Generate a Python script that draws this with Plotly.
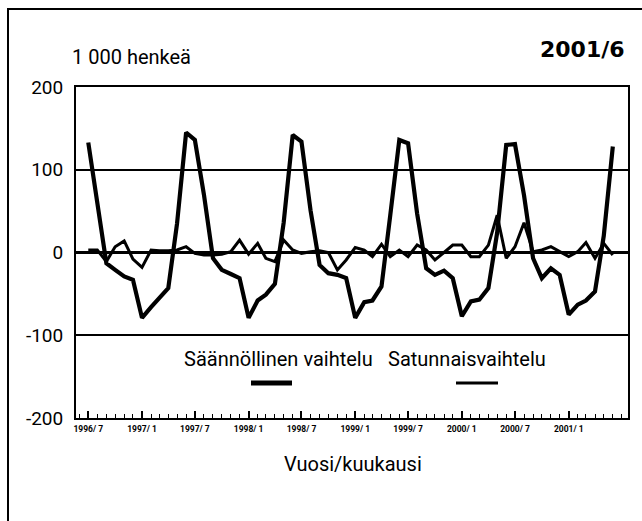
import plotly.graph_objects as go

months = [f"{1996 + (6 + i) // 12}-{(6 + i) % 12 + 1:02d}-01" for i in range(60)]

seasonal = [133, 60, -13, -21, -29, -33, -79, -66, -55, -43, 35, 145,
            136, 70, -7, -21, -26, -31, -79, -58, -51, -38, 36, 142,
            134, 51, -15, -25, -27, -31, -79, -60, -58, -41, 45, 136,
            132, 47, -19, -27, -22, -31, -77, -59, -57, -43, 24, 130,
            131, 69, -7, -31, -19, -27, -75, -63, -58, -47, 20, 128]

irregular = [3, 3, -11, 7, 14, -8, -18, 3, 2, 2, 3, 7,
             -1, -3, -3, -2, 1, 15, -2, 11, -7, -11, 15, 3,
             -1, 1, 2, 0, -21, -9, 6, 3, -5, 10, -5, 3,
             -5, 9, 3, -9, 0, 9, 9, -5, -5, 9, 45, -7,
             7, 36, 1, 3, 7, 1, -5, 1, 12, -7, 11, -3]

tick_vals = ["1996-07-01", "1997-01-01", "1997-07-01", "1998-01-01", "1998-07-01",
             "1999-01-01", "1999-07-01", "2000-01-01", "2000-07-01", "2001-01-01"]
tick_text = ["1996/ 7", "1997/ 1", "1997/ 7", "1998/ 1", "1998/ 7",
             "1999/ 1", "1999/ 7", "2000/ 1", "2000/ 7", "2001/ 1"]

y_ticks = [-200, -100, 0, 100, 200]

FONT = "Roboto, Liberation Sans, sans-serif"

fig = go.Figure()
fig.add_trace(go.Scatter(x=months, y=irregular, mode="lines", name="Satunnaisvaihtelu",
                         line=dict(color="black", width=3)))
fig.add_trace(go.Scatter(x=months, y=seasonal, mode="lines", name="Säännöllinen vaihtelu",
                         line=dict(color="black", width=4.2)))

L, R, T, B = 76, 628, 87, 418
W, H = 642, 521


def px(x):
    return (x - L) / (R - L)


def py(y):
    return (B - y) / (B - T)


shapes = [
    dict(type="rect", xref="paper", yref="paper", x0=px(8), x1=px(660), y0=py(540), y1=py(9),
         line=dict(color="black", width=2), layer="below"),
    dict(type="line", xref="paper", yref="paper", x0=px(251), x1=px(292), y0=py(383), y1=py(383),
         line=dict(color="black", width=5)),
    dict(type="line", xref="paper", yref="paper", x0=px(456), x1=px(498), y0=py(383), y1=py(383),
         line=dict(color="black", width=3)),
]


def label(text, x, y, size, xanchor="center", family=FONT):
    return dict(text=text, x=px(x), y=py(y), xref="paper", yref="paper",
                xanchor=xanchor, yanchor="middle", showarrow=False,
                font=dict(family=family, size=size, color="black"))


annotations = [
    label("Säännöllinen vaihtelu", 278, 359, 20),
    label("Satunnaisvaihtelu", 467, 359, 20),
    label("1 000 henkeä", 70, 57, 20, xanchor="left"),
    label("<b>2001/6</b>", 627, 50, 22, xanchor="right", family="DejaVu Sans, sans-serif"),
    label("Vuosi/kuukausi", 353, 464, 20),
]

fig.update_layout(
    width=W, height=H,
    margin=dict(l=L, r=W - R, t=T, b=H - B),
    paper_bgcolor="white", plot_bgcolor="white",
    showlegend=False,
    shapes=shapes, annotations=annotations,
    xaxis=dict(
        range=["1996-05-20", "2001-07-23"],
        tickmode="array", tickvals=tick_vals, ticktext=tick_text,
        ticks="inside", ticklen=7, tickwidth=1.5, tickcolor="black",
        minor=dict(dtick="M1", tick0="1996-07-01", ticks="inside", ticklen=4,
                   tickwidth=1.2, tickcolor="black", showgrid=False),
        showgrid=False, zeroline=False,
        showline=True, linecolor="black", linewidth=2, mirror=True,
        tickfont=dict(family=FONT, size=8.5, color="black", weight="bold"),
        ticklabelstandoff=2,
        tickangle=0,
    ),
    yaxis=dict(
        range=[-200, 200],
        tickmode="array", tickvals=y_ticks, ticktext=[str(v) for v in y_ticks],
        ticks="", showgrid=True, gridcolor="black", gridwidth=1.5,
        zeroline=True, zerolinecolor="black", zerolinewidth=3,
        showline=True, linecolor="black", linewidth=2, mirror=True,
        tickfont=dict(family=FONT, size=19, color="black"),
        ticklabelstandoff=7,
    ),
)

fig.write_html("out.html", config={"displayModeBar": False},
               post_script="document.body.style.margin='0';")
